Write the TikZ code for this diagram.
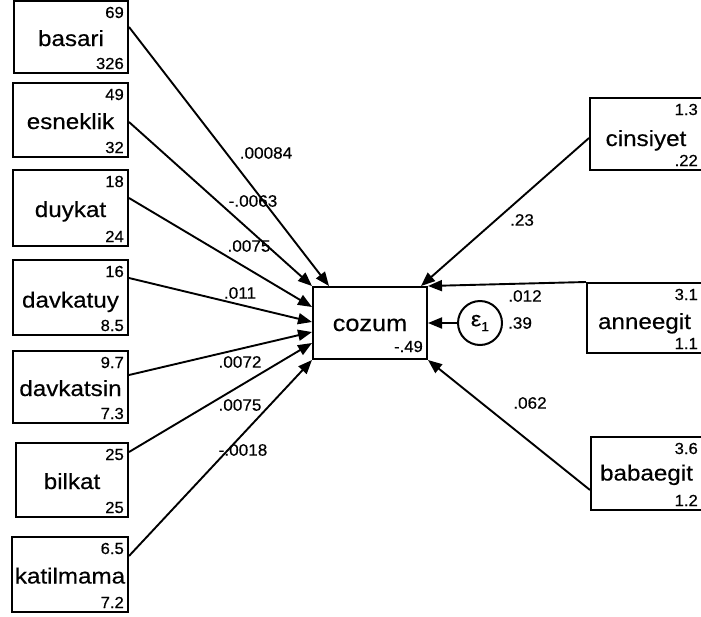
\documentclass[tikz,border=0pt]{standalone}
\usepackage{fontspec}
\setmainfont{Liberation Sans}[FakeStretch=1.1, FakeBold=0.4]
\newfontfamily\numfont{Liberation Sans}[FakeStretch=1.04, FakeBold=0.4]
\usetikzlibrary{arrows.meta}
\newcommand{\mkvar}[8]{%
  \node[box, minimum width={#4-#2}, minimum height={#5-#3}] (#1) at ({(#2+#4)/2},{(#3+#5)/2}) {};
  \node[vname, anchor=base] (#1-name) at ({(#2+#4)/2},{(#3+#5)/2+#8}) {#1};
  \node[num, anchor=base east] (#1-mean) at ({#4-4},{#3+17}) {#6};
  \node[num, anchor=base east] (#1-var) at ({#4-4},{#5-4}) {#7};
}
\begin{document}
\begin{tikzpicture}[x=1pt,y=-1pt,
  box/.style={draw, line width=2pt, inner sep=0pt},
  vname/.style={inner sep=0pt, font=\fontsize{22}{22}\selectfont},
  num/.style={inner sep=0pt, font=\numfont\fontsize{16}{16}\selectfont},
  elab/.style={inner sep=0pt, font=\numfont\fontsize{16.5}{16.5}\selectfont},
  conn/.style={line width=1.9pt, -{Triangle[length=14pt,width=11pt]}}]
\useasboundingbox (0,0) rectangle (701,616);
\clip (0,0) rectangle (701,616);
% left exogenous boxes
\mkvar{basari}{14}{1}{128}{73}{69}{326}{9}
\mkvar{esneklik}{13}{83}{128}{157}{49}{32}{9}
\mkvar{duykat}{13}{170}{128}{246}{18}{24}{9}
\mkvar{davkatuy}{13}{260}{128}{335}{16}{8.5}{10}
\mkvar{davkatsin}{13}{351}{128}{423}{9.7}{7.3}{9}
\mkvar{bilkat}{16}{443}{128}{517}{25}{25}{9}
\mkvar{katilmama}{12}{537}{128}{612}{6.5}{7.2}{9}
% right exogenous boxes
\mkvar{cinsiyet}{590}{98}{702}{170}{1.3}{.22}{12}
\mkvar{anneegit}{587}{283}{702}{353}{3.1}{1.1}{11}
\mkvar{babaegit}{591}{437}{702}{510}{3.6}{1.2}{7}
% endogenous
\node[box, minimum width=114pt, minimum height=72pt] (cozum) at (370,323) {};
\node[vname, anchor=base, font=\fontsize{23}{23}\selectfont] (cozum-name) at (370,331) {cozum};
\node[num, anchor=base east] (cozum-int) at (423,352) {-.49};
% error
\node[draw, circle, line width=2pt, minimum size=44pt, inner sep=0pt] (e1) at (480,323)
  {\fontsize{21}{21}\selectfont ε\raisebox{-5pt}{\fontsize{13}{13}\selectfont 1}};
% connectors
\draw[conn] ([yshift=10pt]basari.east) -- ([xshift=17pt]cozum.north west);
\draw[conn] ([yshift=-2pt]esneklik.east) -- (cozum.north west);
\draw[conn] ([yshift=10pt]duykat.east) -- ([yshift=16pt]cozum.west);
\draw[conn] ([yshift=19.5pt]davkatuy.east) -- ([yshift=1pt]cozum.west);
\draw[conn] ([yshift=12pt]davkatsin.east) -- ([yshift=-9pt]cozum.west);
\draw[conn] ([yshift=28pt]bilkat.east) -- ([yshift=-20pt]cozum.west);
\draw[conn] ([yshift=18.5pt]katilmama.east) -- (cozum.south west);
\draw[conn] ([yshift=-4pt]cinsiyet.west) -- ([xshift=-7pt]cozum.north east);
\draw[conn] (anneegit.north west) -- (cozum.north east);
\draw[conn] ([yshift=-16.5pt]babaegit.west) -- (cozum.south east);
\draw[conn] (e1) -- (cozum.east);
% path coefficients
\node[elab] (l1) at (266,153) {.00084};
\node[elab] (l2) at (253,201) {-.0063};
\node[elab] (l3) at (249,246) {.0075};
\node[elab] (l4) at (240,293) {.011};
\node[elab] (l5) at (240,362) {.0072};
\node[elab] (l6) at (240,405) {.0075};
\node[elab] (l7) at (243,450) {-.0018};
\node[elab] (l8) at (522,220) {.23};
\node[elab] (l9) at (525,296) {.012};
\node[elab] (l10) at (520,323) {.39};
\node[elab] (l11) at (530,403) {.062};
\end{tikzpicture}
\end{document}
